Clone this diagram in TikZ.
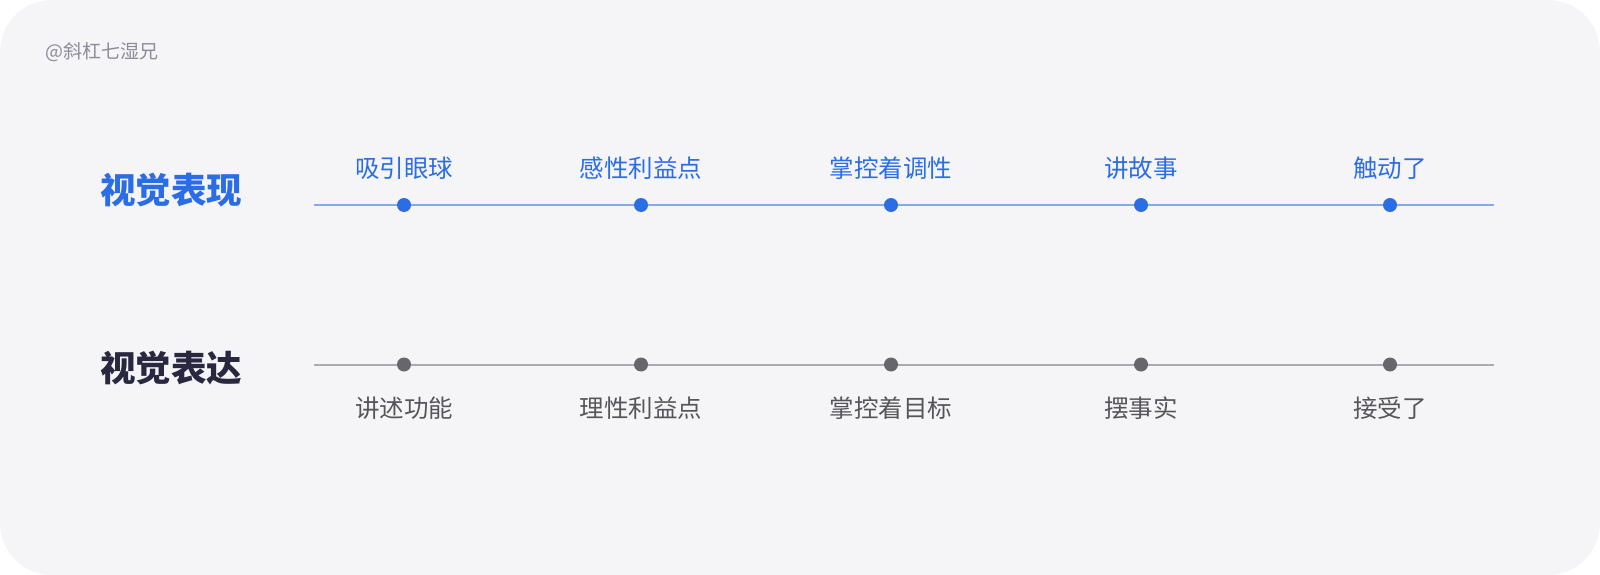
\documentclass[tikz,border=0pt]{standalone}
\usepackage{fontspec}
\newfontfamily\cjk{Noto Sans CJK SC}
\definecolor{bgc}{HTML}{F5F5F7}
\definecolor{bluet}{HTML}{2B6DE5}
\definecolor{bluel}{HTML}{86A9EA}
\definecolor{grayl}{HTML}{ABABAF}
\definecolor{grayd}{HTML}{67676B}
\definecolor{grayt}{HTML}{56565A}
\definecolor{darkt}{HTML}{2A2840}
\definecolor{wmark}{HTML}{8E8C99}
\tikzset{
  topdot/.style={circle,fill=bluet,inner sep=0pt,minimum size=14pt},
  botdot/.style={circle,fill=grayd,inner sep=0pt,minimum size=14pt},
  toplab/.style={font=\cjk\fontsize{24.5}{28}\selectfont,text=bluet,inner sep=0pt},
  botlab/.style={font=\cjk\fontsize{24.5}{28}\selectfont,text=grayt,inner sep=0pt},
  title/.style={font=\cjk\bfseries\fontsize{35.5}{40}\selectfont,inner sep=0pt},
}
\begin{document}
\begin{tikzpicture}[x=1pt,y=-1pt]
\useasboundingbox (0,0) rectangle (1600,575);
\fill[white] (0,0) rectangle (1600,575);
\fill[bgc,rounded corners=52pt] (0,0) rectangle (1600,575);
\node[font=\cjk\fontsize{19}{22}\selectfont,text=wmark,anchor=west,inner sep=0pt] (wm) at (45,52) {@斜杠七湿兄};
\node[title,text=bluet] (t1) at (171,190) {视觉表现};
\node[title,text=darkt] (t2) at (171,368) {视觉表达};
% top row
\coordinate (ts) at (314,205);
\coordinate (te) at (1494,205);
\draw[bluel,line width=2pt] (ts) -- (te);
\foreach \x/\n/\t in {404/a/吸引眼球,641/b/感性利益点,891/c/掌控着调性,1141/d/讲故事,1390/e/触动了}{
  \node[topdot] (td\n) at (\x,205) {};
  \node[toplab] (tl\n) at (\x,168) {\t};
}
% bottom row
\coordinate (bs) at (314,364.5);
\coordinate (be) at (1494,364.5);
\draw[grayl,line width=2pt] (bs) -- (be);
\foreach \x/\n/\t in {404/a/讲述功能,641/b/理性利益点,891/c/掌控着目标,1141/d/摆事实,1390/e/接受了}{
  \node[botdot] (bd\n) at (\x,364.5) {};
  \node[botlab] (bl\n) at (\x,408) {\t};
}
\end{tikzpicture}
\end{document}
